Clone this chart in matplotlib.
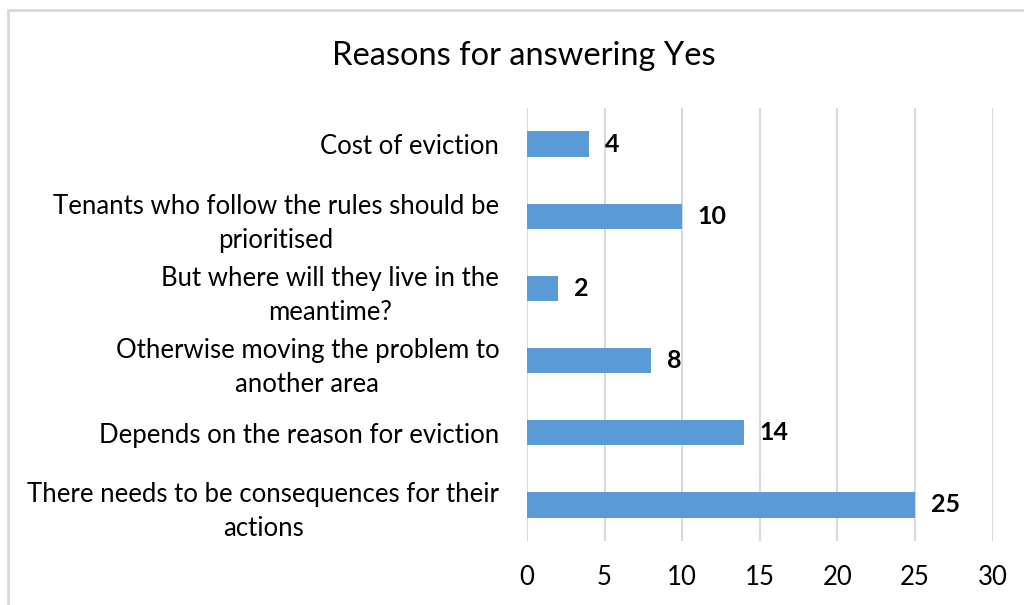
import matplotlib.pyplot as plt
from matplotlib.patches import Rectangle

plt.rcParams['font.family'] = ['Lato', 'DejaVu Sans']

# survey answers, listed from the bottom bar to the top bar
reasons = [
    "There needs to be consequences for their\nactions",
    "Depends on the reason for eviction",
    "Otherwise moving the problem to\nanother area",
    "But where will they live in the\nmeantime?",
    "Tenants who follow the rules should be\nprioritised",
    "Cost of eviction",
]
counts = [25, 14, 8, 2, 10, 4]
x_ticks = [0, 5, 10, 15, 20, 25, 30]

fig = plt.figure(figsize=(10.24, 6.05), dpi=100)
ax = fig.add_axes([0.5146, 0.1058, 0.4548, 0.7157])

# chart frame (only the top and left edges are inside the image)
fig.patches.append(Rectangle((8 / 1024, -0.1), 1.2, 1 - 10 / 605 + 0.1,
                             transform=fig.transFigure, fill=False,
                             edgecolor='#d9d9d9', linewidth=2))

ypos = range(len(reasons))
ax.barh(ypos, counts, height=0.35, color='#5b9bd5', zorder=3)
for y, v in zip(ypos, counts):
    ax.text(v + 1.0, y, str(v), va='center', ha='left',
            fontsize=18, fontweight='bold', color='#000000')

ax.set_xlim(0, 30)
ax.set_ylim(-0.5, len(reasons) - 0.5)
ax.set_xticks(x_ticks)
ax.set_yticks(list(ypos))
ax.set_yticklabels(reasons, multialignment='center', linespacing=1.45)
ax.tick_params(axis='y', length=0, pad=20, labelsize=18.5)
ax.tick_params(axis='x', length=0, pad=17, labelsize=18.5)
ax.grid(axis='x', color='#d9d9d9', linewidth=1.5, zorder=0)
for s in ax.spines.values():
    s.set_visible(False)

fig.text(0.512, 0.907, "Reasons for answering Yes", ha='center', va='center',
         fontsize=23.5, color='#000000')

fig.savefig('out.png', dpi=100)
